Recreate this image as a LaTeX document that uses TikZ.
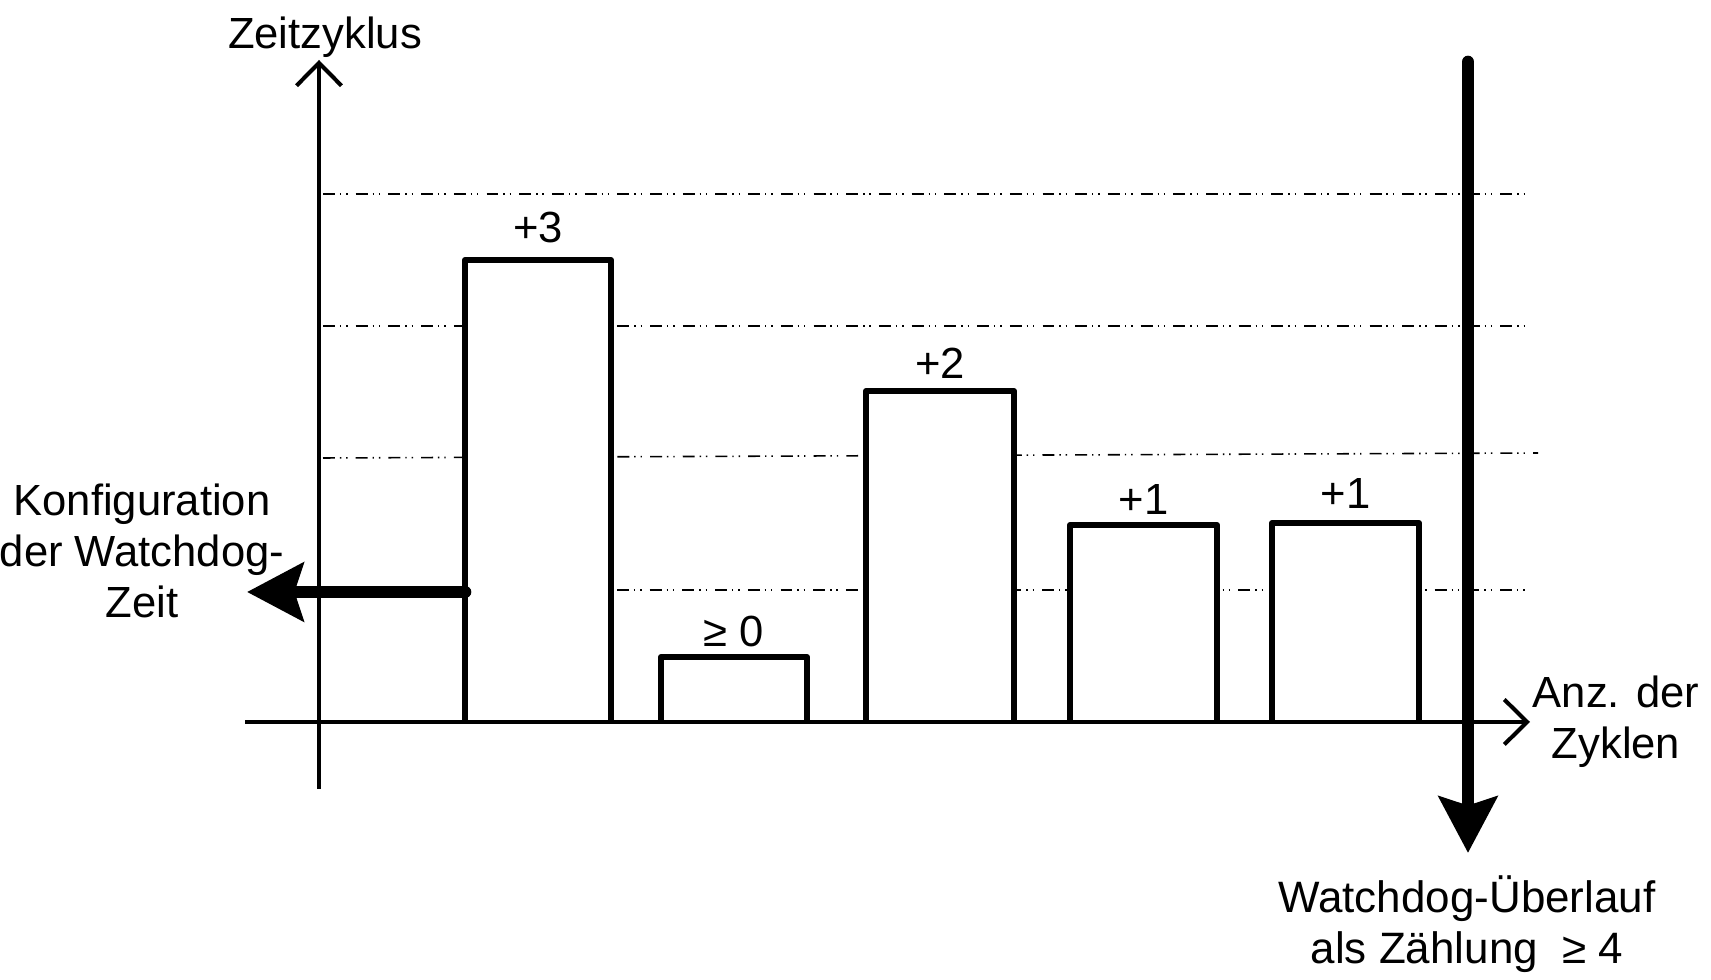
\documentclass[tikz,border=0pt]{standalone}
\usepackage{fontspec}
\setmainfont{Liberation Sans}
\usepackage{tikz}
\usetikzlibrary{arrows.meta, positioning, calc}
\tikzset{
	txt/.style = {inner sep=0, align=center, font=\fontsize{12.4}{14.6}\selectfont},
	axis/.style = {line width=1.15pt, -{Straight Barb[length=6.5pt, width=12.8pt]}},
	gridline/.style = {line width=0.45pt, dash pattern=on 3.4pt off 1.4pt on 0.4pt off 1.4pt on 0.4pt off 2.3pt},
	bar/.style = {line width=1.75pt, line join=round, fill=white},
	thickarrow/.style = {line width=3.6pt, line cap=round, -{Stealth[length=16pt, width=16.5pt, inset=2.5pt]}}
}

\begin{document}
\begin{tikzpicture}[x=0.01cm, y=-0.01cm]
	\useasboundingbox (0,0) rectangle (1711,980);
	
	\coordinate (ytop) at (319,60);
	\coordinate (ybot) at (319,789);
	\coordinate (xleft) at (245,722);
	\coordinate (xright) at (1530,722);
	
	\draw[gridline] (323,194) -- (1529,194);
	\draw[gridline] (323,326) -- (1529,326);
	\draw[gridline] (323,458) -- (1538,453);
	\draw[gridline] (617,590) -- (1529,590);
	
	\foreach \l/\r/\t/\ly/\lab [count=\i] in {465/611/260/228/+3, 661/807/657/631/≥ 0, 866/1014/391/363/+2, 1070/1217/525/500/+1, 1272/1419/523/494/+1}{
		\filldraw[bar] (\l,722) |- (\r,\t) -- (\r,722);
		\node[txt] (lab\i) at ({(\l+\r)/2},\ly) {\lab};
	}
	
	\draw[axis] (ybot) -- (ytop);
	\draw[axis] (xleft) -- (xright);
	
	\node[txt] (ylab) at (325,37) {Zeitzyklus};
	\node[txt] (xlab) at (1616,722) {Anz. der\\Zyklen};
	\node[txt] (cfglab) at (142,551) {Konfiguration\\der Watchdog-\\Zeit};
	\node[txt, font=\fontsize{12.5}{14.6}\selectfont] (wdlab) at (1467,924) {Watchdog-Überlauf\\als Zählung\ \ ≥ 4};
	
	\coordinate (cfg) at (465,592);
	\coordinate (cfgtip) at (247,592);
	\draw[thickarrow] (cfg) -- (cfgtip);
	
	\coordinate (wd) at (1468,62);
	\coordinate (wdtip) at (1468,853);
	\draw[thickarrow] (wd) -- (wdtip);
\end{tikzpicture}
\end{document}
